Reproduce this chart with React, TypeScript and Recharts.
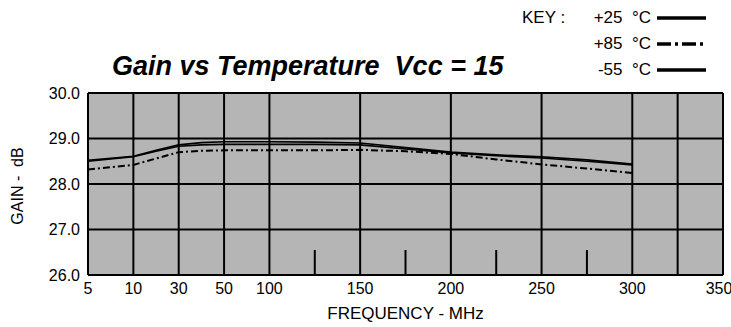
import React from 'react';
import {
  LineChart,
  Line,
  XAxis,
  YAxis,
  CartesianGrid,
  ReferenceLine,
} from 'recharts';

// frequencies in MHz, gain in dB
const freqs = [5, 10, 20, 30, 40, 50, 75, 100, 125, 150, 175, 200, 225, 250, 275, 300];
const gainP25 = [28.52, 28.61, 28.74, 28.86, 28.91, 28.93, 28.93, 28.93, 28.92, 28.9, 28.8, 28.7, 28.64, 28.6, 28.53, 28.44];
const gainP85 = [28.32, 28.42, 28.56, 28.7, 28.73, 28.74, 28.74, 28.74, 28.74, 28.75, 28.72, 28.66, 28.54, 28.43, 28.34, 28.24];
const gainM55 = [28.5, 28.6, 28.72, 28.83, 28.86, 28.87, 28.87, 28.87, 28.87, 28.86, 28.77, 28.68, 28.62, 28.57, 28.5, 28.42];

const xTickFreqs = [5, 10, 30, 50, 100, 150, 200, 250, 300, 350];
const yTicks = [26, 27, 28, 29, 30];
const fullGridFreqs = [10, 30, 50, 100, 150, 200, 250, 300, 325];
const shortGridFreqs = [125, 175, 225, 275];

const keyItems = [
  { label: '+25 °C', dash: undefined },
  { label: '+85 °C', dash: '14 4 3 4' },
  { label: '-55 °C', dash: undefined },
];

// the chart's frequency axis: log-ish steps below 100 MHz, linear above
const breakF = [5, 10, 30, 50, 100, 350];
const breakP = [0, 1, 2, 3, 4, 14];
function fpos(f: number) {
  for (let i = 0; i < breakF.length - 1; i++) {
    if (f <= breakF[i + 1]) {
      const t = (f - breakF[i]) / (breakF[i + 1] - breakF[i]);
      return breakP[i] + t * (breakP[i + 1] - breakP[i]);
    }
  }
  return breakP[breakP.length - 1];
}

const data = freqs.map((f, i) => ({
  pos: fpos(f),
  p25: gainP25[i],
  p85: gainP85[i],
  m55: gainM55[i],
}));

const font = '"Liberation Sans", Arial, sans-serif';
const tickStyle = { fontFamily: font, fontSize: 16, fill: '#000' };

export default function App() {
  return (
    <div style={{ position: 'absolute', left: 0, top: 0, width: 731, height: 327, background: '#fff' }}>
      <LineChart
        width={731}
        height={327}
        data={data}
        margin={{ top: 93, right: 8, bottom: 2, left: 28 }}
      >
        <CartesianGrid
          vertical={false}
          fill="#b5b5b5"
          fillOpacity={1}
          stroke="#000"
          strokeWidth={2}
        />
        <XAxis
          dataKey="pos"
          type="number"
          domain={[0, 14]}
          ticks={xTickFreqs.map(fpos)}
          tickFormatter={(v: number) => String(xTickFreqs[xTickFreqs.map(fpos).indexOf(v)])}
          tickLine={false}
          axisLine={{ stroke: '#000', strokeWidth: 2 }}
          tick={tickStyle}
          height={50}
          label={{ value: 'FREQUENCY -  MHz', position: 'insideBottom', offset: 6, style: { fontFamily: font, fontSize: 17, fill: '#000' } }}
        />
        <YAxis
          type="number"
          domain={[26, 30]}
          ticks={yTicks}
          tickFormatter={(v: number) => v.toFixed(1)}
          tickLine={false}
          axisLine={{ stroke: '#000', strokeWidth: 2 }}
          tick={tickStyle}
          width={60}
        />
        <ReferenceLine y={30} stroke="#000" strokeWidth={2} />
        <ReferenceLine x={14} stroke="#000" strokeWidth={2} />
        {fullGridFreqs.map((f) => (
          <ReferenceLine key={f} x={fpos(f)} stroke="#000" strokeWidth={2} />
        ))}
        {shortGridFreqs.map((f) => (
          <ReferenceLine
            key={f}
            segment={[{ x: fpos(f), y: 26 }, { x: fpos(f), y: 26.55 }]}
            stroke="#000"
            strokeWidth={2}
          />
        ))}
        <Line dataKey="p85" stroke="#000" strokeWidth={2} strokeDasharray="7 3 2 3" dot={false} isAnimationActive={false} />
        <Line dataKey="m55" stroke="#000" strokeWidth={1.6} dot={false} isAnimationActive={false} />
        <Line dataKey="p25" stroke="#000" strokeWidth={1.6} dot={false} isAnimationActive={false} />
      </LineChart>

      <div
        style={{
          position: 'absolute', left: 112, top: 51, fontFamily: font, fontSize: 27,
          fontWeight: 'bold', fontStyle: 'italic', whiteSpace: 'pre', color: '#000',
        }}
      >
        {'Gain vs Temperature  Vcc = 15'}
      </div>

      <div
        style={{
          position: 'absolute', left: 0, top: 186, width: 0, height: 0,
        }}
      >
        <div
          style={{
            position: 'absolute', left: 18, top: 0, transform: 'translate(-50%, -50%) rotate(-90deg)',
            fontFamily: font, fontSize: 16, whiteSpace: 'pre', color: '#000',
          }}
        >
          {'GAIN -  dB'}
        </div>
      </div>

      <div style={{ position: 'absolute', left: 522, top: 8, fontFamily: font, fontSize: 17, color: '#000' }}>KEY :</div>
      {keyItems.map((k, i) => (
        <div key={k.label} style={{ position: 'absolute', top: 8 + i * 26, left: 500, width: 210, height: 20 }}>
          <span style={{ position: 'absolute', right: 59, top: 0, fontFamily: font, fontSize: 17, whiteSpace: 'pre', color: '#000' }}>
            {k.label.replace(' ', '  ')}
          </span>
          <svg width={50} height={20} style={{ position: 'absolute', left: 157, top: 0 }}>
            <line x1={0} x2={49} y1={10} y2={10} stroke="#000" strokeWidth={3.5} strokeDasharray={k.dash} />
          </svg>
        </div>
      ))}
    </div>
  );
}
